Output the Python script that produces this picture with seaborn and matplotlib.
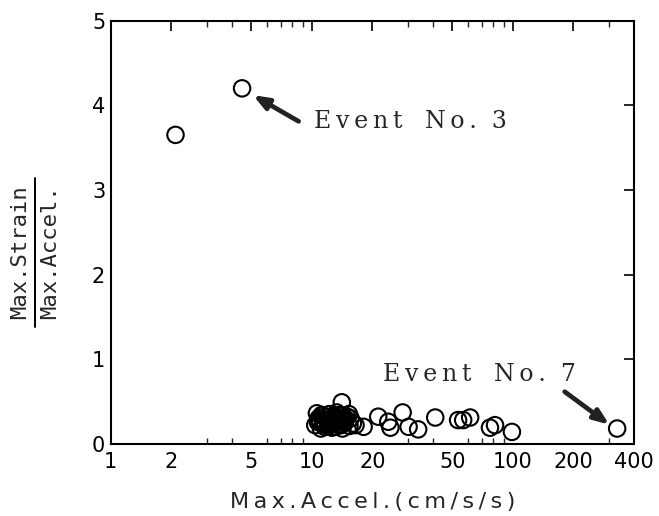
import matplotlib
matplotlib.use("Agg")
import matplotlib.pyplot as plt
import seaborn as sns
import pandas as pd
from matplotlib.ticker import LogLocator, FixedLocator, FixedFormatter, NullFormatter
from matplotlib.lines import Line2D

# Data
max_accel = [2.1, 4.5,
             10.4, 10.8, 11.0, 11.3, 11.6, 11.9, 12.2, 12.5, 12.8, 13.1,
             13.4, 13.7, 14.0, 14.3, 14.6, 15.0, 15.4, 10.6, 11.1, 11.5,
             12.0, 12.6, 13.0, 13.6, 14.2, 14.8, 15.3, 16.0, 10.9, 12.3,
             13.3, 14.1, 15.6, 16.5, 14.1,
             10.7, 11.4, 11.8, 12.4, 12.9, 13.5, 14.5, 11.2, 12.1, 13.8,
             18.1, 21.4, 24.0, 24.6, 28.3, 30.3, 33.8, 41.1, 53.4, 56.6,
             61.3, 76.9, 81.5, 98.9, 330.0]
ratio = [3.65, 4.2,
         0.22, 0.30, 0.25, 0.33, 0.20, 0.28, 0.35, 0.24, 0.30, 0.20,
         0.27, 0.34, 0.22, 0.30, 0.25, 0.32, 0.21, 0.36, 0.18, 0.27,
         0.31, 0.19, 0.33, 0.26, 0.18, 0.29, 0.35, 0.24, 0.28, 0.23,
         0.37, 0.33, 0.30, 0.22, 0.49,
         0.26, 0.23, 0.32, 0.28, 0.25, 0.29, 0.27, 0.34, 0.21, 0.23,
         0.20, 0.32, 0.26, 0.19, 0.37, 0.20, 0.17, 0.31, 0.28, 0.28,
         0.31, 0.19, 0.22, 0.14, 0.18]
x_ticks = [1, 2, 5, 10, 20, 50, 100, 200, 400]
x_ticklabels = ["1", "2", "5", "10", "20", "50", "100", "200", "400"]
y_ticks = [0, 1, 2, 3, 4, 5]

df = pd.DataFrame({"accel": max_accel, "ratio": ratio})

sns.set_style("white")
plt.rcParams["font.family"] = ["DejaVu Sans"]

TS = "\u2009"  # thin space for letter spacing


def spaced(s):
    return TS.join(s)


fig = plt.figure(figsize=(6.59, 5.16), dpi=100)
ax = fig.add_axes([0.168, 0.140, 0.794, 0.820])

sns.scatterplot(data=df, x="accel", y="ratio", ax=ax, marker="o",
                s=140, facecolor="none", edgecolor="black", linewidth=1.5,
                legend=False)

ax.set_xscale("log")
ax.set_xlim(1, 400)
ax.set_ylim(0, 5)

ax.xaxis.set_major_locator(FixedLocator(x_ticks))
ax.xaxis.set_major_formatter(FixedFormatter(x_ticklabels))
ax.xaxis.set_minor_locator(LogLocator(base=10, subs=[2, 3, 4, 5, 6, 7, 8, 9]))
ax.xaxis.set_minor_formatter(NullFormatter())
ax.set_yticks(y_ticks)
ax.set_yticklabels([str(v) for v in y_ticks])

for s in ax.spines.values():
    s.set_linewidth(1.5)
    s.set_color("black")

ax.tick_params(axis="both", which="major", direction="in", length=7, width=1.2,
               top=True, right=True, labelsize=15, colors="black", pad=4)
ax.tick_params(axis="x", which="minor", direction="in", length=4, width=1.0,
               top=True, bottom=True)
ax.tick_params(axis="x", which="major", pad=6)

ax.set_xlabel(spaced("Max.Accel.(cm/s/s)"), family="DejaVu Sans", fontsize=16,
              labelpad=14)
ax.set_ylabel("")

# Fraction-style y label
fig.text(0.030, 0.512, "Max.Strain", rotation=90, ha="center", va="center",
         family="DejaVu Sans Mono", fontsize=16)
fig.text(0.076, 0.512, "Max.Accel.", rotation=90, ha="center", va="center",
         family="DejaVu Sans Mono", fontsize=16)
fig.add_artist(Line2D([0.053, 0.053], [0.366, 0.655], color="black", lw=1.4,
                      transform=fig.transFigure))

arrow = dict(arrowstyle="-|>,head_length=0.9,head_width=0.35", lw=3.4,
             color="#222222", shrinkA=0, shrinkB=0)
ax.annotate("", xy=(5.1, 4.12), xytext=(8.6, 3.81), arrowprops=arrow)
ax.text(10.2, 3.81, spaced("Event") + "   " + spaced("No.") + "  3",
        family="DejaVu Serif", fontsize=17, va="center", ha="left")
ax.annotate("", xy=(302, 0.225), xytext=(181, 0.615), arrowprops=arrow)
ax.text(22.7, 0.82, spaced("Event") + "   " + spaced("No.") + "  7",
        family="DejaVu Serif", fontsize=17, va="center", ha="left")

fig.savefig("out.png", dpi=100)
